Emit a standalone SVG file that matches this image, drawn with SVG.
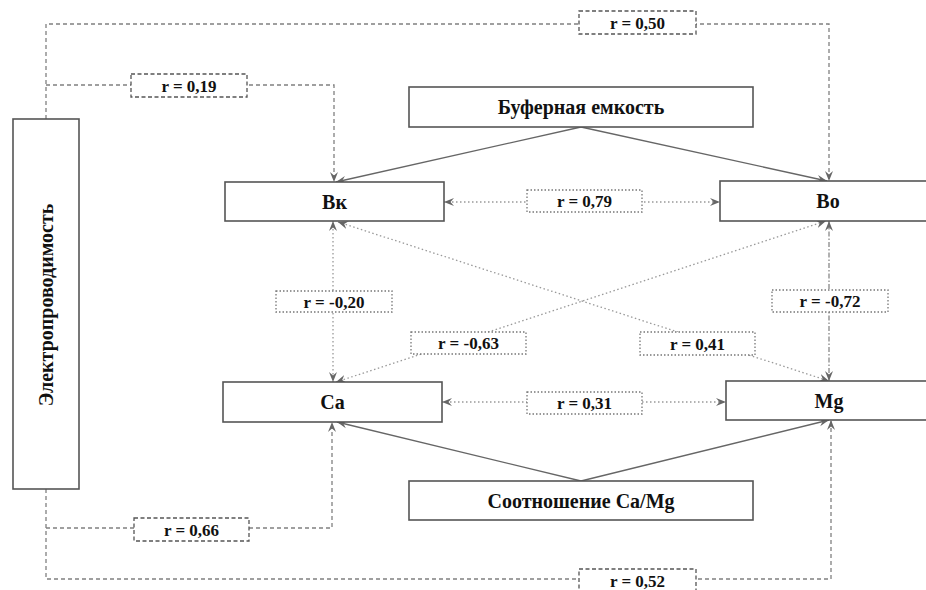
<svg xmlns="http://www.w3.org/2000/svg" width="926" height="590" viewBox="0 0 926 590">
<style>
.node{fill:#fff;stroke:#555;stroke-width:1.6}
.nt{font-family:"Liberation Serif","Times New Roman",serif;font-weight:bold;font-size:20px;fill:#111;text-anchor:middle}
.lt{font-family:"Liberation Serif","Times New Roman",serif;font-weight:bold;font-size:17px;fill:#111;text-anchor:middle}
.solid{fill:none;stroke:#666;stroke-width:1.3}
.dash{fill:none;stroke:#808080;stroke-width:1.3;stroke-dasharray:4 3}
.dot{fill:none;stroke:#999;stroke-width:1.3;stroke-dasharray:1.5 2.5}
.dashdot{fill:none;stroke:#888;stroke-width:1.3;stroke-dasharray:5 2 1.5 2}
.lbdash{fill:#fff;stroke:#555;stroke-width:1.3;stroke-dasharray:4 2.5}
.lbdot{fill:#fff;stroke:#777;stroke-width:1.3;stroke-dasharray:1.5 2}
</style>
<defs>
<marker id="ah" viewBox="0 0 10 10" refX="10" refY="5" markerWidth="10" markerHeight="10" markerUnits="userSpaceOnUse" orient="auto-start-reverse">
<path d="M0,1 L10,5 L0,9 L3.5,5 Z" fill="#666"/>
</marker>
</defs>
<rect width="926" height="590" fill="#fff"/>
<g id="connectors">
<!-- electro dashed -->
<path class="dash" d="M46,119 V24 H829 V181" marker-end="url(#ah)"/>
<path class="dash" d="M46,85 H334 V182" marker-end="url(#ah)"/>
<path class="dash" d="M46,489 V579 H831 V420" marker-end="url(#ah)"/>
<path class="dash" d="M46,528 H332 V422" marker-end="url(#ah)"/>
<!-- solid -->
<path class="solid" d="M581,127 L336,182" marker-end="url(#ah)"/>
<path class="solid" d="M581,127 L827,181" marker-end="url(#ah)"/>
<path class="solid" d="M581,481 L337,422" marker-end="url(#ah)"/>
<path class="solid" d="M581,481 L829,420" marker-end="url(#ah)"/>
<!-- dotted correlations -->
<path class="dot" d="M444,202 H720" marker-start="url(#ah)" marker-end="url(#ah)"/>
<path class="dot" d="M442,402 H726" marker-start="url(#ah)" marker-end="url(#ah)"/>
<path class="dot" d="M333,221 V382" marker-start="url(#ah)" marker-end="url(#ah)"/>
<path class="dot" d="M338,222 L829,381" marker-start="url(#ah)" marker-end="url(#ah)"/>
<path class="dot" d="M336,382 L826,221" marker-start="url(#ah)" marker-end="url(#ah)"/>
<path class="dashdot" d="M829,221 V381" marker-start="url(#ah)" marker-end="url(#ah)"/>
</g>
<g id="lbl-050"><rect class="lbdash" x="579" y="11" width="117" height="23"/><text class="lt" x="637.5" y="28.5">r = 0,50</text></g>
<g id="lbl-019"><rect class="lbdash" x="131" y="74" width="116" height="23"/><text class="lt" x="189" y="91.5">r = 0,19</text></g>
<g id="lbl-079"><rect class="lbdot" x="527" y="190" width="115" height="22"/><text class="lt" x="584.5" y="207">r = 0,79</text></g>
<g id="lbl-020"><rect class="lbdot" x="276" y="291" width="116" height="21"/><text class="lt" x="334" y="307.5">r = -0,20</text></g>
<g id="lbl-063"><rect class="lbdot" x="411" y="332" width="115" height="22"/><text class="lt" x="468.5" y="349">r = -0,63</text></g>
<g id="lbl-041"><rect class="lbdot" x="640" y="332" width="115" height="23"/><text class="lt" x="697.5" y="349.5">r = 0,41</text></g>
<g id="lbl-072"><rect class="lbdot" x="772" y="290" width="116" height="22"/><text class="lt" x="830" y="307">r = -0,72</text></g>
<g id="lbl-031"><rect class="lbdot" x="527" y="392" width="115" height="22"/><text class="lt" x="584.5" y="409">r = 0,31</text></g>
<g id="lbl-066"><rect class="lbdash" x="134" y="518" width="115" height="23"/><text class="lt" x="191.5" y="535.5">r = 0,66</text></g>
<g id="lbl-052"><rect class="lbdash" x="579" y="569" width="117" height="26"/><text class="lt" x="637.5" y="586.5">r = 0,52</text></g>
<g id="electro"><rect class="node" x="13" y="119" width="66" height="370"/><text class="nt" transform="translate(53,305) rotate(-90)">Электропроводимость</text></g>
<g id="buffer"><rect class="node" x="409" y="87" width="344" height="40"/><text class="nt" x="581" y="114">Буферная емкость</text></g>
<g id="bk"><rect class="node" x="225" y="182" width="219" height="39"/><text class="nt" x="334.5" y="208.5">Вк</text></g>
<g id="bo"><rect class="node" x="720" y="181" width="220" height="40"/><text class="nt" x="828" y="208">Во</text></g>
<g id="ca"><rect class="node" x="223" y="382" width="219" height="40"/><text class="nt" x="332.5" y="409">Ca</text></g>
<g id="mg"><rect class="node" x="726" y="381" width="214" height="39"/><text class="nt" x="829" y="408">Mg</text></g>
<g id="ratio"><rect class="node" x="409" y="481" width="344" height="39"/><text class="nt" x="581" y="508">Соотношение Ca/Mg</text></g>
</svg>
